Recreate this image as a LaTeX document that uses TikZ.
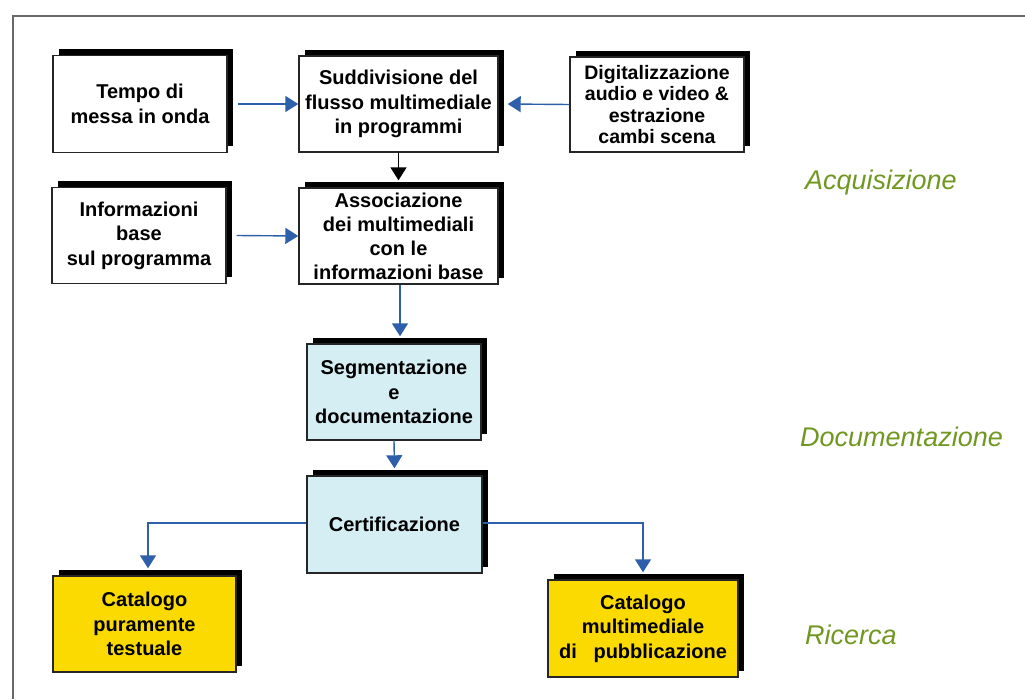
\documentclass[tikz,border=0pt]{standalone}
\usepackage{fontspec}
\setmainfont{Liberation Sans}
\usetikzlibrary{shadows,arrows.meta}
\definecolor{flowblue}{RGB}{45,95,170}
\definecolor{phasegreen}{RGB}{112,152,32}
\definecolor{docblue}{RGB}{212,238,243}
\definecolor{catyellow}{RGB}{250,218,0}
\definecolor{framegray}{RGB}{105,105,105}
\begin{document}
\begin{tikzpicture}[x=1pt,y=-1pt,
  box/.style={draw=black!85, line width=1.4pt, fill=white, align=center, inner sep=0pt,
    font=\fontsize{20}{24.5}\selectfont\bfseries,
    drop shadow={shadow xshift=5.5pt, shadow yshift=6.5pt, fill=black, opacity=1}},
  docbox/.style={box, fill=docblue},
  catbox/.style={box, fill=catyellow},
  flow/.style={draw=flowblue, line width=1.4pt, -{Triangle[width=16pt,length=13pt]}},
  flowblack/.style={flow, draw=black, -{Triangle[width=16pt,length=13pt,fill=black]}},
  phase/.style={text=phasegreen, font=\fontsize{27}{30}\selectfont\itshape, inner sep=0pt, anchor=west},
]
\useasboundingbox (0,0) rectangle (1025,699);

% frame lines
\draw[framegray, line width=1.1pt] (13,699) -- (13,16) -- (1025,16);

% acquisition stage
\node[box, minimum width=174pt, minimum height=97pt] (tempo) at (140,104) {Tempo di\\messa in onda};
\node[box, minimum width=199pt, minimum height=96pt] (sudd) at (398.5,104) {Suddivisione del\\flusso multimediale\\in programmi};
\node[box, minimum width=174pt, minimum height=95pt, font=\fontsize{19.5}{21.5}\selectfont\bfseries] (digit) at (657,104.5) {Digitalizzazione\\audio e video \&\\estrazione\\cambi scena};
\node[box, minimum width=174pt, minimum height=96pt] (info) at (139,235.5) {Informazioni\\base\\sul programma};
\node[box, minimum width=199pt, minimum height=96pt, font=\fontsize{20}{24}\selectfont\bfseries] (assoc) at (398.5,236) {Associazione\\dei multimediali\\con le\\informazioni base};

% documentation stage
\node[docbox, minimum width=174pt, minimum height=96pt] (segm) at (394,392) {Segmentazione\\e\\documentazione};
\node[docbox, minimum width=175pt, minimum height=97pt] (cert) at (394.5,524.5) {Certificazione};

% search stage
\node[catbox, minimum width=183pt, minimum height=96pt] (cat1) at (144.5,624) {Catalogo\\puramente\\testuale};
\node[catbox, minimum width=190pt, minimum height=97pt] (cat2) at (643,628.5) {Catalogo\\multimediale\\di\ \ \ pubblicazione};

% phase labels
\node[phase] (lacq) at (805,183) {Acquisizione};
\node[phase] (ldoc) at (800,437) {Documentazione};
\node[phase] (lric) at (805,635) {Ricerca};

% connectors
\draw[flow] ([xshift=10pt]tempo.east) -- (sudd.west);
\draw[flow] (digit.west) -- ([xshift=9pt]sudd.east);
\draw[flow] ([xshift=10pt]info.east) -- (assoc.west);
\draw[flowblack] (sudd.south) -- ([yshift=7pt]assoc.north);
\draw[flow] ([xshift=1.5pt]assoc.south) -- ([xshift=1.5pt,yshift=7pt]assoc.south |- segm.north);
\draw[flow] (segm.south) -- ([yshift=7pt]cert.north);
\draw[flow] ([yshift=1.5pt]cert.west) -| ([xshift=3.5pt,yshift=7pt]cat1.north);
\draw[flow] ([yshift=1.5pt]cert.east) -| ([yshift=7pt]cat2.north);
\end{tikzpicture}
\end{document}
